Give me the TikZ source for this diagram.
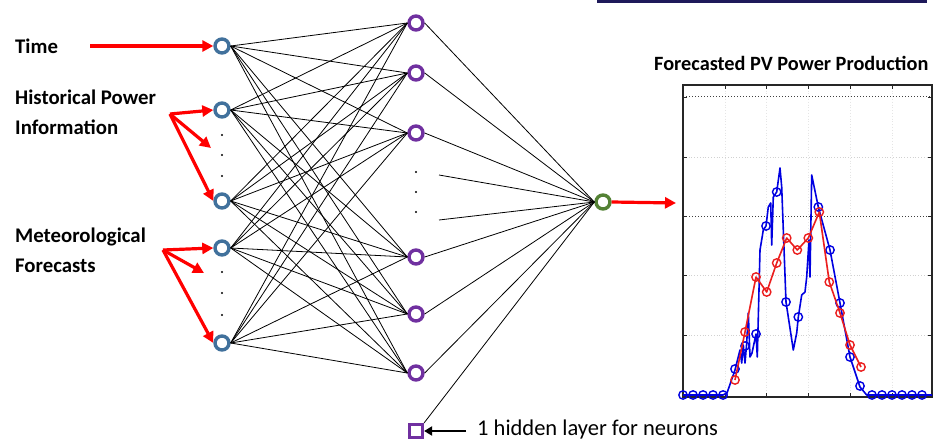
\documentclass[tikz,border=0pt]{standalone}
\usepackage{fontspec}
\setmainfont{Carlito}
\usetikzlibrary{arrows.meta}
\definecolor{inblue}{RGB}{65,113,156}
\definecolor{hidpurple}{RGB}{112,48,160}
\definecolor{outgreen}{RGB}{84,130,53}
\definecolor{navybar}{RGB}{30,25,90}
\definecolor{plotblue}{RGB}{0,0,225}
\definecolor{plotred}{RGB}{235,30,30}
\begin{document}
\begin{tikzpicture}[x=1pt,y=-1pt,
  neuron/.style={circle, draw, line width=3.4pt, minimum size=14pt, inner sep=0pt, fill=white},
  inn/.style={neuron, draw=inblue},
  hid/.style={neuron, draw=hidpurple},
  outn/.style={neuron, draw=outgreen},
  conn/.style={black, line width=0.8pt},
  redarrow/.style={draw=red, line width=3.2pt, -{Triangle[length=11pt,width=11pt]}},
  lbl/.style={font=\bfseries\fontsize{20.8}{24}\selectfont, anchor=base west, inner sep=0pt},
  dotn/.style={circle, fill=black, inner sep=0pt, minimum size=2.4pt},
  bmark/.style={draw=plotblue, line width=1.4pt},
  rmark/.style={draw=plotred, line width=1.4pt}
]
\useasboundingbox (0,0) rectangle (935,441);
\fill[white] (0,0) rectangle (935,441);
% top bar
\fill[navybar] (597,0) rectangle (927,3);

% input nodes
\node[inn] (i1) at (222,46) {};
\node[inn] (i2) at (222,110) {};
\node[inn] (i3) at (222,201) {};
\node[inn] (i4) at (222,248) {};
\node[inn] (i5) at (222,343) {};
% hidden nodes
\node[hid] (h1) at (416,23) {};
\node[hid] (h2) at (416,73) {};
\node[hid] (h3) at (416,133) {};
\node[hid] (h4) at (416,257) {};
\node[hid] (h5) at (416,314) {};
\node[hid] (h6) at (416,373) {};
% output node
\node[outn] (o) at (603,202) {};
% bias square
\node[draw=hidpurple, line width=3.2pt, minimum size=13pt, inner sep=0pt, fill=white] (sq) at (416,431) {};

% dots
\foreach \y [count=\k] in {135,155,176} \node[dotn] (da\k) at (222,\y) {};
\foreach \y [count=\k] in {272,293,315} \node[dotn] (db\k) at (222,\y) {};
\foreach \y [count=\k] in {172,192,212} \node[dotn] (dh\k) at (416,\y) {};

% connections input -> hidden
\foreach \a in {i1,i2,i3,i4,i5}
  \foreach \b in {h1,h2,h3,h4,h5,h6}
    \draw[conn] (\a.east) -- (\b.west);
% hidden -> output
\foreach \b in {h1,h2,h3,h4,h5,h6}
  \draw[conn] (\b.east) -- (o.west);
\coordinate (s1) at (439,175);
\coordinate (s2) at (439,220);
\draw[conn] (s1) -- (o.west);
\draw[conn] (s2) -- (o.west);
\draw[conn] (sq.north east) -- (o.west);

% labels
\node[lbl] (tTime) at (15,54) {Time};
\node[lbl] (tHist1) at (15,105) {Historical Power};
\node[lbl] (tHist2) at (15,135) {Information};
\node[lbl] (tMet1) at (15,242) {Meteorological};
\node[lbl] (tMet2) at (15,272) {Forecasts};

% red arrows
\coordinate (aT) at (90,46);
\coordinate (aH) at (170,114);
\coordinate (aM) at (163,250);
\coordinate (tH2) at (211,148);
\coordinate (tM2) at (204,273);
\draw[redarrow] (aT) -- (i1.west);
\draw[redarrow] (aH) -- (i2.west);
\draw[redarrow] (aH) -- (tH2);
\draw[redarrow] (aH) -- (i3.west);
\draw[redarrow] (aM) -- (i4.west);
\draw[redarrow] (aM) -- (tM2);
\draw[redarrow] (aM) -- (i5.west);

% output arrow
\coordinate (chartin) at (676,203);
\draw[redarrow] (o.east) -- (chartin);

% bias label
\node[font=\fontsize{22.5}{26}\selectfont, anchor=base west, inner sep=0pt] (blbl) at (477,435) {1 hidden layer for neurons};
\coordinate (bstart) at (466,431);
\draw[black, line width=2.4pt, -{Triangle[length=8pt,width=9pt]}] (bstart) -- (sq.east);

% chart
\node[font=\bfseries\fontsize{20.3}{24}\selectfont, anchor=base west, inner sep=0pt] (title) at (654,71) {Forecasted PV Power Production};
% faint grid
\foreach \y in {157,275,335}
  \draw[black!18, dotted, line width=0.8pt] (683,\y) -- (932,\y);
\foreach \x in {725,766,808,850,892}
  \draw[black!10, dotted, line width=0.8pt] (\x,85) -- (\x,397);
\foreach \y in {97,216}
  \draw[black!75, dotted, line width=1pt] (683,\y) -- (932,\y);
% box
\draw[black!85, line width=1.2pt] (683,85) rectangle (932,397);
\foreach \x in {725,766,808,850,892} {
  \draw[black!85, line width=0.8pt] (\x,85) -- (\x,89);
  \draw[black!85, line width=0.8pt] (\x,397) -- (\x,393);
}
\foreach \y in {97,157,216,275,335} {
  \draw[black!85, line width=0.8pt] (683,\y) -- (687,\y);
  \draw[black!85, line width=0.8pt] (932,\y) -- (928,\y);
}
% blue curve
\draw[plotblue, line width=1.6pt, line join=round] plot coordinates {
(683,395) (723,395) (727,393) (735,370) (740,350) (741.7,363) (743.3,345) (745,363) (746.7,343) (748.3,313) (750,357) (752,353) (756,334) (757.3,357) (760,250) (763.3,230) (766,226) (768.3,207) (770.7,203) (771.7,245) (773.3,197) (776.7,192) (780,168) (781.7,187) (786,302) (793.3,350) (796.7,333) (798.3,317) (801.7,295) (805,292) (806.7,277) (809,240) (810,277) (811.7,175) (818.3,207) (830,250) (840,303) (850,357) (860,387) (866.7,395) (932,395)};
\foreach \x/\y in {683/395,693/395,703/395,713/395,723/395,735/369,745/346,756/334,766/226,776.7/192,786/302,798.3/317,818.3/207,830/250,840/303,850/357,860/386,872/395,882/395,892/395,902/395,912/395,922/395}
  \draw[bmark] (\x,\y) circle (4.2);
% red curve
\draw[plotred, line width=1.6pt, line join=round] plot coordinates {
(735,380) (745,332) (756,277) (766.7,292) (776.7,263) (786.7,238) (797.3,250) (808.3,238) (819.3,212) (829.3,282) (840,313) (850,345) (861,367)};
\foreach \x/\y in {735/380,745/332,756/277,766.7/292,776.7/263,786.7/238,797.3/250,808.3/238,819.3/212,829.3/282,840/313,850/345,861/367}
  \draw[rmark] (\x,\y) circle (4.2);
\end{tikzpicture}
\end{document}
